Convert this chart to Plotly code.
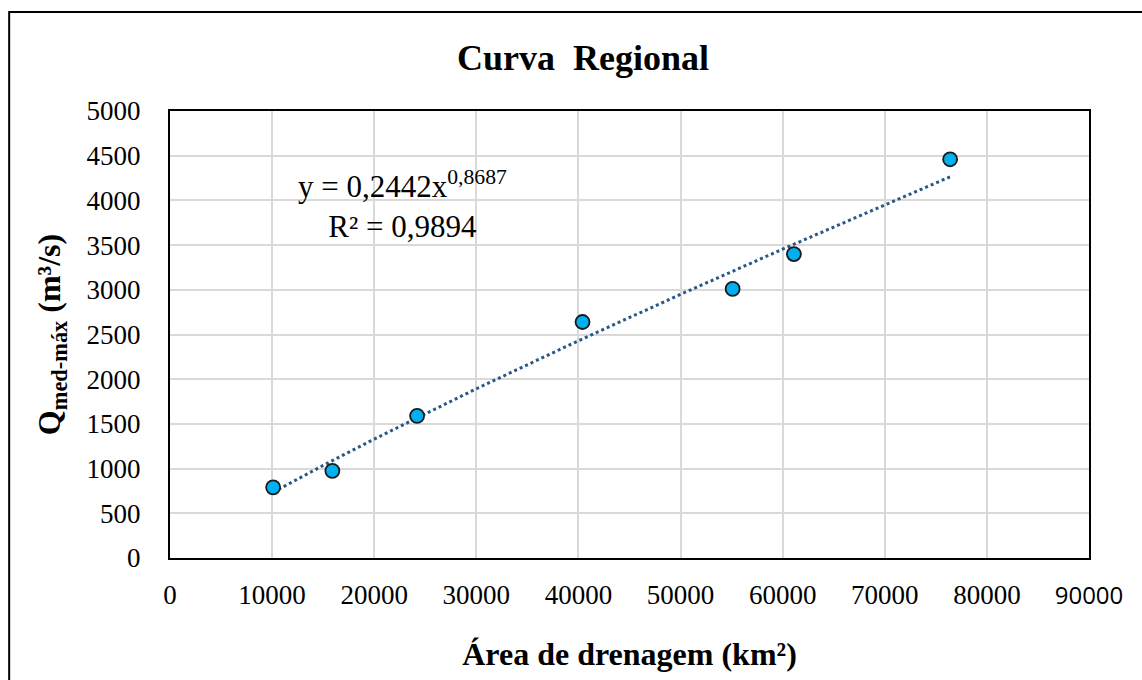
import plotly.graph_objects as go

# Observed data
area_km2 = [10100, 15900, 24200, 40400, 55100, 61100, 76400]
q_med_max = [790, 975, 1590, 2640, 3010, 3400, 4460]

# Power trendline (y = 0,2442 x^0,8687)
trend_x = [10100, 15000, 20000, 30000, 40000, 50000, 60000, 70000, 76400]
trend_y = [735, 1036, 1330, 1893, 2430, 2949, 3455, 3951, 4264]

x_ticks = [0, 10000, 20000, 30000, 40000, 50000, 60000, 70000, 80000, 90000]
y_ticks = [0, 500, 1000, 1500, 2000, 2500, 3000, 3500, 4000, 4500, 5000]

SERIF = "Liberation Serif, Times New Roman, serif"

fig = go.Figure()
fig.add_trace(go.Scatter(
    x=trend_x, y=trend_y, mode="lines",
    line=dict(color="#2A5783", width=3, dash="dot"),
    hoverinfo="skip", showlegend=False,
))
fig.add_trace(go.Scatter(
    x=area_km2, y=q_med_max, mode="markers",
    marker=dict(size=14, color="#00B0F0", line=dict(color="#1a1a1a", width=1.8)),
    showlegend=False,
))

x_text = [str(v) for v in x_ticks]
x_text[-1] = '<span style="font-family:Open Sans, sans-serif;font-size:24px">' + x_text[-1] + '</span>'

fig.update_layout(
    width=1142, height=680,
    margin=dict(l=170, r=53, t=111, b=122),
    paper_bgcolor="white", plot_bgcolor="white",
    font=dict(family=SERIF, color="black", size=27),
    title=dict(text="<b>Curva  Regional</b>", x=583 / 1142, xanchor="center",
               y=1 - 57 / 680, yanchor="middle",
               font=dict(family=SERIF, size=36, color="black")),
    xaxis=dict(
        range=[0, 90000], tickvals=x_ticks, ticktext=x_text,
        showgrid=True, gridcolor="#D9D9D9", gridwidth=2,
        showline=True, linecolor="black", linewidth=2, mirror=True,
        ticks="", zeroline=False, ticklabelstandoff=12,
        tickfont=dict(family=SERIF, size=27, color="black"),
        title=dict(text="<b>Área de drenagem (km²)</b>", standoff=32,
                   font=dict(family=SERIF, size=32, color="black")),
    ),
    yaxis=dict(
        range=[0, 5000], tickvals=y_ticks,
        showgrid=True, gridcolor="#D9D9D9", gridwidth=2,
        showline=True, linecolor="black", linewidth=2, mirror=True,
        ticks="", zeroline=False, ticklabelstandoff=22,
        tickfont=dict(family=SERIF, size=27, color="black"),
        title=dict(text="<b>Q<sub>med-máx</sub> (m³/s)</b>", standoff=16,
                   font=dict(family=SERIF, size=32, color="black")),
    ),
    annotations=[dict(
        x=22800, y=3950, xref="x", yref="y",
        text="y = 0,2442x<sup>0,8687</sup><br>R² = 0,9894",
        showarrow=False, align="center",
        font=dict(family=SERIF, size=31, color="black"),
    )],
    shapes=[dict(
        type="rect", xref="paper", yref="paper",
        x0=-161 / 920, x1=1.2, y0=-0.5, y1=1 + 99 / 447,
        line=dict(color="black", width=2), fillcolor="rgba(0,0,0,0)",
        layer="below",
    )],
)

fig.write_html("out.html")
